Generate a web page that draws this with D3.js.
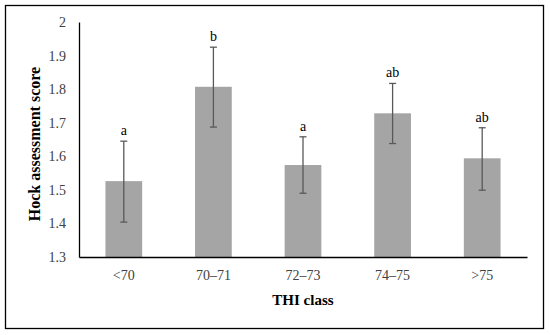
<!DOCTYPE html>
<html>
<head>
<meta charset="utf-8">
<script src="https://cdn.jsdelivr.net/npm/d3@7"></script>
<style>
  body { margin: 0; background: #fff; }
  svg text { font-family: "Liberation Serif", "DejaVu Serif", serif; }
</style>
</head>
<body>
<svg class="chart" width="550" height="335"></svg>
<script>
// data
const classes = ["<70", "70–71", "72–73", "74–75", ">75"];
const means = [1.526, 1.807, 1.574, 1.728, 1.594];
const errLow = [1.404, 1.687, 1.490, 1.638, 1.499];
const errHigh = [1.645, 1.925, 1.658, 1.817, 1.685];
const letters = ["a", "b", "a", "ab", "ab"];
const yTicks = [1.3, 1.4, 1.5, 1.6, 1.7, 1.8, 1.9, 2];

let svg = d3.select("svg.chart"),
    margin = {top: 22, bottom: 78, left: 79, right: 23},
    width = +svg.attr("width"),
    height = +svg.attr("height");

// outer frame
svg.append("rect")
    .attr("x", 5.5).attr("y", 5.5)
    .attr("width", 538).attr("height", 323)
    .style("fill", "none")
    .style("stroke", "#000")
    .style("stroke-width", 1.3);

let x = d3.scaleBand()
    .domain(classes)
    .range([margin.left, width - margin.right])
    .paddingInner(0.59)
    .paddingOuter(0.295);

let y = d3.scaleLinear()
    .domain([1.3, 2])
    .range([height - margin.bottom, margin.top]);

// bars
svg.selectAll("rect.bar")
    .data(classes)
    .enter().append("rect")
    .attr("class", "bar")
    .attr("x", d => x(d))
    .attr("width", x.bandwidth())
    .attr("y", (d, i) => y(means[i]))
    .attr("height", (d, i) => y(1.3) - y(means[i]))
    .style("fill", "#a5a5a5");

// error bars
let eb = svg.selectAll("g.err")
    .data(classes)
    .enter().append("g")
    .attr("class", "err")
    .attr("transform", d => "translate(" + (x(d) + x.bandwidth() / 2) + ",0)")
    .style("stroke", "#595959")
    .style("stroke-width", 1.3);
eb.append("line")
    .attr("x1", 0).attr("x2", 0)
    .attr("y1", (d, i) => y(errLow[i]))
    .attr("y2", (d, i) => y(errHigh[i]));
eb.append("line")
    .attr("x1", -3.5).attr("x2", 3.5)
    .attr("y1", (d, i) => y(errLow[i]))
    .attr("y2", (d, i) => y(errLow[i]));
eb.append("line")
    .attr("x1", -3.5).attr("x2", 3.5)
    .attr("y1", (d, i) => y(errHigh[i]))
    .attr("y2", (d, i) => y(errHigh[i]));

// significance letters
svg.selectAll("text.letter")
    .data(classes)
    .enter().append("text")
    .attr("class", "letter")
    .attr("x", d => x(d) + x.bandwidth() / 2)
    .attr("y", (d, i) => y(errHigh[i]) - 6)
    .style("text-anchor", "middle")
    .style("font-size", "14px")
    .style("fill", "#000")
    .text((d, i) => letters[i]);

// y axis
let yAxis = svg.append("g")
    .attr("class", "y-axis")
    .attr("transform", "translate(" + margin.left + ",0)")
    .call(d3.axisLeft(y).tickValues(yTicks).tickSize(0).tickPadding(13)
        .tickFormat(d3.format("~g")));
yAxis.select(".domain").style("stroke", "#000").style("stroke-width", 1.3);
yAxis.selectAll("text").style("font-size", "14px").style("fill", "#404040")
    .style("font-family", "Liberation Serif, serif");

// x axis
let xAxis = svg.append("g")
    .attr("class", "x-axis")
    .attr("transform", "translate(0," + (height - margin.bottom) + ")")
    .call(d3.axisBottom(x).tickSize(0).tickPadding(13));
xAxis.select(".domain").style("stroke", "#000").style("stroke-width", 1.3);
xAxis.selectAll("text").style("font-size", "14px").style("fill", "#404040")
    .style("font-family", "Liberation Serif, serif");

// axis titles
svg.append("text")
    .attr("x", (margin.left + width - margin.right) / 2)
    .attr("y", 305)
    .style("text-anchor", "middle")
    .style("font-size", "15px")
    .style("font-weight", "bold")
    .text("THI class");

svg.append("text")
    .attr("transform", "translate(40,144) rotate(-90)")
    .style("text-anchor", "middle")
    .style("font-size", "16px")
    .style("font-weight", "bold")
    .text("Hock assessment score");
</script>
</body>
</html>
